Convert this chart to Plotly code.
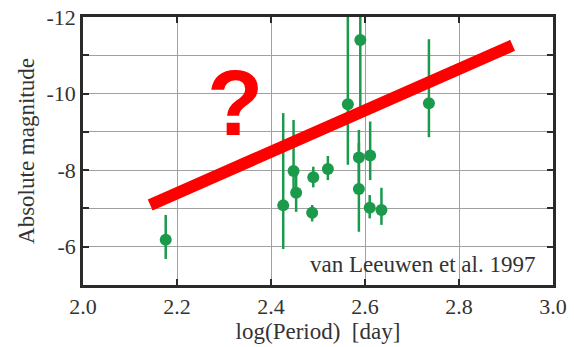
import plotly.graph_objects as go

# Cepheid-like sample: log period [day] vs absolute magnitude with asymmetric errors
log_period = [2.176, 2.426, 2.448, 2.4535, 2.490, 2.4876, 2.521, 2.5635,
              2.590, 2.587, 2.587, 2.611, 2.610, 2.635, 2.736]
abs_mag = [-6.18, -7.08, -7.98, -7.41, -7.815, -6.89, -8.03, -9.72,
           -11.40, -8.33, -7.51, -8.38, -7.02, -6.96, -9.75]
mag_bright = [-6.83, -9.49, -9.31, -7.87, -8.09, -7.09, -8.37, -12.5,
              -12.5, -9.05, -8.71, -9.27, -7.35, -7.54, -11.42]
mag_faint = [-5.68, -5.94, -7.48, -6.91, -7.55, -6.66, -7.74, -8.14,
             -9.40, -7.61, -6.39, -7.74, -6.74, -6.57, -8.86]

# Proposed period-luminosity relation (end points)
rel_logp = [2.143, 2.914]
rel_mag = [-7.09, -11.26]

x_ticks = [2.0, 2.2, 2.4, 2.6, 2.8, 3.0]
x_ticktext = ["2.0", "2.2", "2.4", "2.6", "2.8", "3.0"]
y_ticks = [-12, -10, -8, -6]
y_ticktext = ["-12", "-10", "-8", "-6"]

GREEN = "#1b9a4c"
INK = "#2a2a2a"
SERIF = "Liberation Serif, Times New Roman, serif"

err_plus = [f - m for f, m in zip(mag_faint, abs_mag)]
err_minus = [m - b for m, b in zip(abs_mag, mag_bright)]

fig = go.Figure()
fig.add_trace(go.Scatter(
    x=log_period, y=abs_mag, mode="markers",
    marker=dict(color=GREEN, size=12, line=dict(width=0)),
    error_y=dict(type="data", symmetric=False, array=err_plus,
                 arrayminus=err_minus, color=GREEN, thickness=2.5, width=0),
    cliponaxis=True, showlegend=False,
))
fig.add_trace(go.Scatter(
    x=rel_logp, y=rel_mag, mode="lines",
    line=dict(color="#ff0000", width=12),
    showlegend=False, hoverinfo="skip",
))

fig.add_annotation(x=2.324, y=-9.75, xref="x", yref="y", text="<b>?</b>",
                   showarrow=False,
                   font=dict(family="Liberation Sans, Arial, sans-serif",
                             size=92, color="#ff0000"))
fig.add_annotation(x=0.967, y=0.075, xref="paper", yref="paper",
                   xanchor="right", yanchor="middle", showarrow=False,
                   text="van Leeuwen et al. 1997",
                   font=dict(family=SERIF, size=23, color="#333333"))

axis_common = dict(
    showline=True, linecolor=INK, linewidth=2.5, mirror="ticks",
    ticks="inside", ticklen=6, tickcolor=INK, tickwidth=2,
    showgrid=True, gridcolor="#a0a0a0", gridwidth=1.2, zeroline=False,
    automargin=False,
    tickfont=dict(family=SERIF, size=22, color="#333333"),
)

fig.update_xaxes(
    range=[2.0, 3.0], tickmode="array", tickvals=x_ticks, ticktext=x_ticktext,
    title=dict(text="log(Period)  [day]", standoff=4,
               font=dict(family=SERIF, size=23, color="#333333")),
    **axis_common,
)
fig.update_yaxes(
    range=[-5, -12], autorange=False, tickmode="array", tickvals=y_ticks,
    ticktext=y_ticktext,
    minor=dict(dtick=1, tick0=-12, showgrid=True, gridcolor="#a0a0a0",
               gridwidth=1.2, ticks="inside", ticklen=6, tickcolor=INK,
               tickwidth=2),
    title=dict(text="Absolute magnitude", standoff=6,
               font=dict(family=SERIF, size=23, color="#333333")),
    **axis_common,
)

fig.update_layout(
    width=574, height=347,
    margin=dict(l=83, r=21, t=17, b=62),
    paper_bgcolor="white", plot_bgcolor="white",
)

fig.write_html("out.html")
